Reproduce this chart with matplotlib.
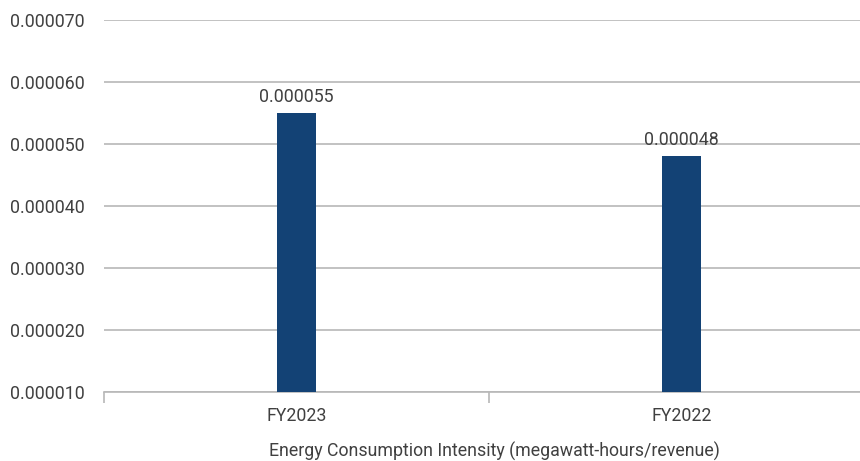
import matplotlib.pyplot as plt
from matplotlib.ticker import FixedLocator

years = ["FY2023", "FY2022"]
intensity = [0.000055, 0.000048]
value_labels = ["0.000055", "0.000048"]
y_ticks = [0.00001, 0.00002, 0.00003, 0.00004, 0.00005, 0.00006, 0.00007]

plt.rcParams["font.family"] = ["Roboto", "DejaVu Sans"]
text_color = "#404040"
grid_color = "#b8b8b8"
bar_color = "#134275"
fs = 12.8

fig = plt.figure(figsize=(8.6, 4.61), dpi=100)
ax = fig.add_axes([104 / 860, 1 - 392 / 461, 1 - 104 / 860, (392 - 20) / 461])

x = list(range(len(years)))
bars = ax.bar(x, intensity, width=0.1, color=bar_color, zorder=3)

for b, lab in zip(bars, value_labels):
    ax.annotate(lab, (b.get_x() + b.get_width() / 2, b.get_height()),
                xytext=(0, 5), textcoords="offset points",
                ha="center", va="bottom", fontsize=fs, color=text_color)

ax.set_xlim(-0.5, 1.5 - 14 / 385)
ax.set_ylim(0.00001, 0.00007)
ax.set_yticks(y_ticks)
ax.set_yticklabels([f"{v:.6f}" for v in y_ticks])
ax.yaxis.grid(True, color=grid_color, linewidth=1.2, zorder=0)
ax.set_axisbelow(True)

ax.set_xticks(x)
ax.set_xticklabels(years)
ax.xaxis.set_minor_locator(FixedLocator([-0.5, 0.5]))
ax.tick_params(axis="x", which="major", length=0, pad=11, labelsize=fs, labelcolor=text_color)
ax.tick_params(axis="x", which="minor", length=8, width=1.2, color=grid_color)
ax.tick_params(axis="y", length=0, pad=14, labelsize=fs, labelcolor=text_color)

for side in ["left", "right", "top"]:
    ax.spines[side].set_visible(False)
ax.spines["bottom"].set_color(grid_color)
ax.spines["bottom"].set_linewidth(1.2)

ax.set_xlabel("Energy Consumption Intensity (megawatt-hours/revenue)",
              fontsize=fs, color=text_color)
ax.xaxis.set_label_coords(0.517, -0.135)

fig.savefig("out.png", dpi=100)
